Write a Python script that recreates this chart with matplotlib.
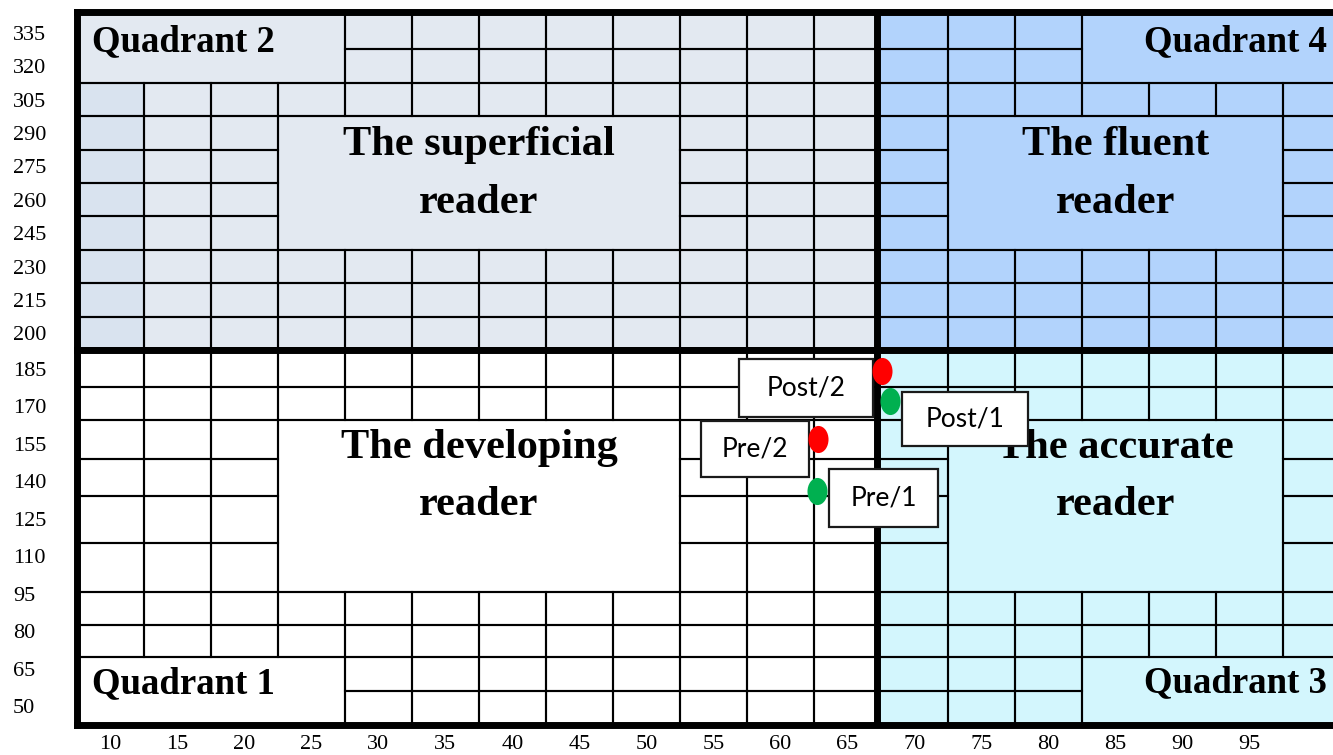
import matplotlib
matplotlib.use("Agg")
import matplotlib.pyplot as plt
from matplotlib.patches import Rectangle
from matplotlib.path import Path
from matplotlib.transforms import Affine2D

# Axis bands
x_ticks = [10, 15, 20, 25, 30, 35, 40, 45, 50, 55, 60, 65, 70, 75, 80, 85, 90, 95]
y_ticks_top = [335, 320, 305, 290, 275, 260, 245, 230, 215, 200]
y_ticks_bottom = [185, 170, 155, 140, 125, 110, 95, 80, 65, 50]

# Test results
point_names = ["Pre/1", "Post/1", "Pre/2", "Post/2"]
point_x = [62.7, 68.2, 62.8, 67.6]
point_y = [136, 172, 157, 184]
point_colors = ["#00b050", "#00b050", "#ff0000", "#ff0000"]

# Quadrant texts
quadrant_names = ["Quadrant 1", "Quadrant 2", "Quadrant 3", "Quadrant 4"]
reader_names = [["The developing", "reader"], ["The superficial", "reader"],
                ["The accurate", "reader"], ["The fluent", "reader"]]

# ---- layout of the table ----
x_split = 67.2
col_edges = [7.5 + 5 * i for i in range(12)] + [x_split] + [72.5 + 5 * i for i in range(7)]
top_edges = [344.3] + [327.5 - 15 * i for i in range(10)]
bot_edges = [192.5, 177.7, 164.5, 148.9, 134.1, 115.3, 95.7, 82.5, 69.7, 56.1, 42.5]
# merged cells: (row0, row1, col0, col1), rows 0-19 from top
merges = [(0, 1, 0, 3), (3, 6, 3, 8), (0, 1, 15, 18), (3, 6, 13, 17),
          (12, 15, 3, 8), (12, 15, 13, 17), (18, 19, 0, 3), (18, 19, 15, 18)]
# label boxes relative to point: dx, dy, width, height
box_shape = [(5.0, -2.7, 8.1, 23.2), (5.6, -7.1, 9.4, 21.6),
             (-4.7, -4.1, 8.0, 22.4), (-5.7, -6.7, 10.0, 23.2)]

serif = "Liberation Serif"
W, H = 1333, 755
fig = plt.figure(figsize=(W / 100, H / 100), dpi=100)
left = 77 / W
ax_top = fig.add_axes([left, 1 - 350 / H, 1 - left, (350 - 12) / H])
ax_bot = fig.add_axes([left, 1 - 725 / H, 1 - left, (725 - 350) / H])

xmax = 7.5 + (W - 77) / 13.4
ax_top.set_xlim(7.5, xmax)
ax_bot.set_xlim(7.5, xmax)
ax_top.set_ylim(192.5, top_edges[0])
ax_bot.set_ylim(42.5, 192.5)

# fills
ax_top.add_patch(Rectangle((7.5, 192.5), x_split - 7.5, 152, color="#e3e9f1", zorder=0))
ax_top.add_patch(Rectangle((7.5, 192.5), 5, 120, color="#d9e3ef", zorder=0))
ax_top.add_patch(Rectangle((x_split, 192.5), 40, 152, color="#b2d3fc", zorder=0))
ax_bot.add_patch(Rectangle((x_split, 42.5), 40, 150, color="#d3f6fd", zorder=0))


def covered(r, c):
    for m in merges:
        if m[0] <= r <= m[1] and m[2] <= c <= m[3]:
            return True
    return False


for half, ax, edges in [(0, ax_top, top_edges), (1, ax_bot, bot_edges)]:
    for i in range(10):
        r = half * 10 + i
        for c in range(19):
            if covered(r, c):
                continue
            ax.add_patch(Rectangle((col_edges[c], edges[i + 1]),
                                   col_edges[c + 1] - col_edges[c], edges[i] - edges[i + 1],
                                   fill=False, ec="black", lw=1.5, zorder=1))
    for r0, r1, c0, c1 in merges:
        if r0 // 10 != half:
            continue
        i0, i1 = r0 - half * 10, r1 - half * 10
        ax.add_patch(Rectangle((col_edges[c0], edges[i1 + 1]),
                               col_edges[c1 + 1] - col_edges[c0], edges[i0] - edges[i1 + 1],
                               fill=False, ec="black", lw=1.5, zorder=1))
    ax.axvline(x_split, color="black", lw=5, zorder=3)
    for s in ["left", "top", "bottom"]:
        ax.spines[s].set_linewidth(5)
    ax.spines["right"].set_visible(False)
    ax.tick_params(length=0)

# ticks
ax_top.set_xticks([])
ax_bot.set_xticks(x_ticks)
ax_bot.set_xticklabels([str(v) for v in x_ticks], fontfamily=serif, fontsize=16)
ax_bot.tick_params(axis="x", pad=7)
for ax, ticks in [(ax_top, y_ticks_top), (ax_bot, y_ticks_bottom)]:
    ax.set_yticks(ticks)
    ax.set_yticklabels([str(v) for v in ticks], fontfamily=serif, fontsize=16, ha="left")
    ax.tick_params(axis="y", pad=46)

# quadrant names
qfont = dict(fontfamily=serif, fontweight="bold", fontsize=26.5, va="baseline", zorder=2)
ax_bot.text(8.6, 55.3, quadrant_names[0], ha="left", **qfont)
ax_top.text(8.6, 326.6, quadrant_names[1], ha="left", **qfont)
ax_bot.text(100.8, 55.5, quadrant_names[2], ha="right", **qfont)
ax_top.text(100.8, 326.6, quadrant_names[3], ha="right", **qfont)

# reader names
rfont = dict(fontfamily=serif, fontweight="bold", fontsize=30.5, va="baseline", ha="center", zorder=2)
for ax, xc, ys, lines in [(ax_bot, 37.5, (149.3, 126.5), reader_names[0]),
                          (ax_top, 37.5, (279.9, 254.1), reader_names[1]),
                          (ax_bot, 85, (149.3, 126.5), reader_names[2]),
                          (ax_top, 85, (279.9, 254.1), reader_names[3])]:
    for y, line in zip(ys, lines):
        ax.text(xc, y, line, **rfont)

# ellipse marker
ellipse = Path.unit_circle().transformed(Affine2D().scale(0.74, 1))

for name, x, y, col, (dx, dy, bw, bh) in zip(point_names, point_x, point_y, point_colors, box_shape):
    cx, cy = x + dx, y + dy
    ax_bot.add_patch(Rectangle((cx - bw / 2, cy - bh / 2), bw, bh, fc="white",
                               ec="#1a1a1a", lw=1.6, zorder=4))
    ax_bot.text(cx, cy, name, ha="center", va="center", fontfamily="Lato",
                fontsize=19, zorder=5)
    ax_bot.plot([x], [y], marker=ellipse, markersize=19.5, color=col,
                markeredgewidth=0, linestyle="none", zorder=6)

fig.savefig("out.png", dpi=100)
